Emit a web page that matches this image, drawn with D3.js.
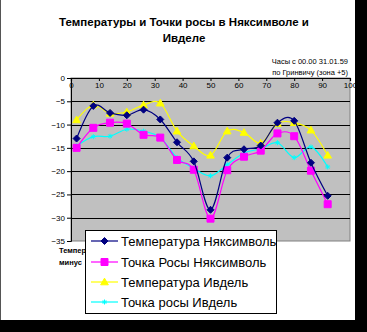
<!DOCTYPE html>
<html>
<head>
<meta charset="utf-8">
<script src="https://cdn.jsdelivr.net/npm/d3@7/dist/d3.min.js"></script>
<style>
  html, body { margin: 0; padding: 0; background: #000; }
  svg { display: block; }
  text { font-family: Arial, "Liberation Sans", sans-serif; }
</style>
</head>
<body>
<svg id="chart" width="367" height="332"></svg>
<script>
// Observation hours since 00.00 31.01.59 (GMT)
const hours = [2, 8, 14, 20, 26, 32, 38, 44, 50, 56, 62, 68, 74, 80, 86, 92];

const tempNyaksimvol = [-13.0, -6.0, -7.5, -8.0, -6.8, -8.9, -13.8, -17.9, -28.3, -17.1, -15.3, -14.5, -9.6, -9.2, -18.2, -25.3];
const dewNyaksimvol  = [-15.0, -10.7, -9.6, -9.8, -12.2, -12.8, -17.6, -19.7, -30.2, -19.8, -16.9, -15.6, -11.9, -12.5, -19.9, -27.1];
const tempIvdel      = [-9.0, -5.8, -7.6, -7.3, -5.8, -5.4, -11.4, -14.6, -16.6, -11.4, -11.7, -14.0, -9.8, -9.6, -11.2, -16.6];
const dewIvdel       = [-14.6, -12.6, -12.5, -11.0, -11.4, -12.8, -17.1, -19.4, -21.0, -18.6, -16.1, -15.2, -13.9, -17.1, -14.8, -19.1];

const xTicks = [0, 10, 20, 30, 40, 50, 60, 70, 80, 90, 100];
const yTicks = [0, -5, -10, -15, -20, -25, -30, -35];

const seriesNames = ["Температура Няксимволь", "Точка Росы Няксимволь", "Температура Ивдель", "Точка росы Ивдель"];
const seriesColors = ["#000080", "#ff00ff", "#ffff00", "#00ffff"];
const seriesMarkers = ["diamond", "square", "triangle", "star"];
const seriesValues = [tempNyaksimvol, dewNyaksimvol, tempIvdel, dewIvdel];

const svg = d3.select("#chart");

// chart sheet (white) on a black surround
svg.append("rect").attr("x", 0).attr("y", 0).attr("width", 355).attr("height", 320).attr("fill", "#fff");
svg.append("line").attr("x1", 0.5).attr("x2", 0.5).attr("y1", 0).attr("y2", 320).attr("stroke", "#555");

const plot = { left: 71, right: 350, top: 78, bottom: 241 };

const x = d3.scaleLinear().domain([0, 100]).range([plot.left, plot.right]);
const y = d3.scaleLinear().domain([0, -35]).range([plot.top, plot.bottom]);

// title
const title = svg.append("text").attr("text-anchor", "middle")
  .attr("font-size", 11.5).attr("font-weight", "bold").attr("fill", "#000");
title.append("tspan").attr("x", 184).attr("y", 26).text("Температуры и Точки росы в Няксимволе и");
title.append("tspan").attr("x", 184).attr("y", 42).text("Ивделе");

// x-axis caption
svg.append("text").attr("x", 348).attr("y", 64).attr("text-anchor", "end")
  .attr("font-size", 7.5).text("Часы с 00.00  31.01.59");
svg.append("text").attr("x", 348).attr("y", 75).attr("text-anchor", "end")
  .attr("font-size", 7.5).text("по Гринвичу (зона +5)");

// plot background
svg.append("rect").attr("x", plot.left).attr("y", plot.top)
  .attr("width", plot.right - plot.left).attr("height", plot.bottom - plot.top)
  .attr("fill", "#c0c0c0").attr("stroke", "#808080").attr("stroke-width", 1);

// gridlines
svg.append("g").selectAll("line").data(yTicks.filter(v => v < 0 && v > -35)).join("line")
  .attr("x1", plot.left).attr("x2", plot.right)
  .attr("y1", d => Math.round(y(d)) + 0.5).attr("y2", d => Math.round(y(d)) + 0.5)
  .attr("stroke", "#000").attr("stroke-width", 1);

// y axis
const yAxis = svg.append("g").attr("transform", `translate(${plot.left},0)`)
  .call(d3.axisLeft(y).tickValues(yTicks).tickSize(4).tickPadding(2).tickFormat(d3.format("d")));
yAxis.select(".domain").attr("stroke", "#000");
yAxis.selectAll("text").attr("font-size", 8).attr("font-family", "Arial, 'Liberation Sans', sans-serif").attr("fill", "#000");

// x axis along the zero line, labels inside the plot
const xAxis = svg.append("g").attr("transform", `translate(0,${plot.top})`)
  .call(d3.axisBottom(x).tickValues(xTicks).tickSize(3).tickPadding(1).tickFormat(d3.format("d")));
xAxis.select(".domain").attr("stroke", "#000").attr("stroke-width", 1.2);
xAxis.selectAll("text").attr("font-size", 8).attr("font-family", "Arial, 'Liberation Sans', sans-serif").attr("fill", "#000");

// smoothed series lines
const line = d3.line().x((d, i) => x(hours[i])).y(d => y(d)).curve(d3.curveCardinal.tension(0));

function markerPath(type, size) {
  const s = size;
  if (type === "diamond") return `M0,${-s}L${s},0L0,${s}L${-s},0Z`;
  if (type === "square") return `M${-s},${-s}H${s}V${s}H${-s}Z`;
  if (type === "triangle") return `M0,${-s * 1.1}L${s * 1.1},${s * 0.8}L${-s * 1.1},${s * 0.8}Z`;
  return `M${-s},0H${s}M0,${-s}V${s}M${-s * 0.7},${-s * 0.7}L${s * 0.7},${s * 0.7}M${-s * 0.7},${s * 0.7}L${s * 0.7},${-s * 0.7}`;
}

const order = [3, 2, 1, 0];
order.forEach(k => {
  const g = svg.append("g");
  g.append("path").datum(seriesValues[k]).attr("d", line)
    .attr("fill", "none").attr("stroke", seriesColors[k]).attr("stroke-width", 1.2);
  g.selectAll("path.m").data(seriesValues[k]).join("path").attr("class", "m")
    .attr("transform", (d, i) => `translate(${x(hours[i])},${y(d)})`)
    .attr("d", markerPath(seriesMarkers[k], k === 3 ? 2.5 : 3.5))
    .attr("fill", k === 3 ? "none" : seriesColors[k])
    .attr("stroke", seriesColors[k]).attr("stroke-width", 1);
});

// y-axis caption partly hidden behind the legend
svg.append("text").attr("x", 59).attr("y", 253).attr("font-size", 7.5).attr("font-weight", "bold").text("Температура");
svg.append("text").attr("x", 59).attr("y", 265).attr("font-size", 7.5).attr("font-weight", "bold").text("минус");

// legend
const legend = svg.append("g");
legend.append("rect").attr("x", 85.5).attr("y", 230.5).attr("width", 191).attr("height", 83)
  .attr("fill", "#fff").attr("stroke", "#000").attr("stroke-width", 1);
const legendY = [241, 262, 282, 302];
seriesNames.forEach((name, k) => {
  const ly = legendY[k];
  legend.append("line").attr("x1", 91).attr("x2", 118).attr("y1", ly).attr("y2", ly)
    .attr("stroke", seriesColors[k]).attr("stroke-width", 1.2);
  legend.append("path").attr("transform", `translate(104.5,${ly})`)
    .attr("d", markerPath(seriesMarkers[k], k === 3 ? 2.5 : 3.5))
    .attr("fill", k === 3 ? "none" : seriesColors[k]).attr("stroke", seriesColors[k]);
  legend.append("text").attr("x", 121).attr("y", ly + 4.5).attr("font-size", 13).text(name);
});
</script>
</body>
</html>
